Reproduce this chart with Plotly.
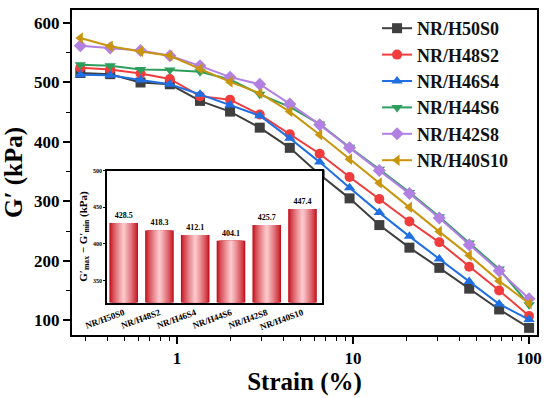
import plotly.graph_objects as go

# ---------------- data ----------------
strain = [0.282, 0.417, 0.62, 0.91, 1.35, 2.0, 2.95, 4.37, 6.46, 9.55,
          14.1, 20.9, 30.9, 45.7, 67.6, 100]

series_names = ["NR/H50S0", "NR/H48S2", "NR/H46S4", "NR/H44S6", "NR/H42S8", "NR/H40S10"]

g_h50s0 = [516, 514, 500, 497, 469, 451, 424, 390, 345, 305, 260, 222, 188, 153, 118, 87]
g_h48s2 = [525, 522, 515, 506, 477, 471, 446, 413, 380, 341, 304, 266, 231, 190, 150, 107]
g_h46s4 = [513, 512, 504, 497, 480, 462, 444, 406, 366, 323, 281, 241, 203, 165, 127, 101]
g_h44s6 = [530, 528, 522, 521, 518, 505, 480, 459, 430, 391, 354, 315, 274, 230, 186, 126]
g_h42s8 = [562, 558, 554, 545, 528, 509, 497, 464, 429, 390, 352, 313, 272, 227, 183, 136]
g_h40s10 = [575, 561, 552, 545, 523, 501, 482, 451, 412, 371, 331, 290, 249, 209, 166, 128]

bar_labels = ["NR/H50S0", "NR/H48S2", "NR/H46S4", "NR/H44S6", "NR/H42S8", "NR/H40S10"]
bar_values = [428.5, 418.3, 412.1, 404.1, 425.7, 447.4]

# ---------------- style ----------------
colors = ["#3f3f3f", "#f03c3c", "#1f6fe3", "#2e9e5c", "#b27fe2", "#c9950c"]
symbols = ["square", "circle", "triangle-up", "triangle-down", "diamond", "triangle-left"]
FONT = "Liberation Serif"

fig = go.Figure()
all_series = [g_h50s0, g_h48s2, g_h46s4, g_h44s6, g_h42s8, g_h40s10]
for name, ys, c, s in zip(series_names, all_series, colors, symbols):
    fig.add_trace(go.Scatter(
        x=strain, y=ys, name=name, mode="lines+markers",
        line=dict(color=c, width=2),
        marker=dict(symbol=s, size=10, color=c),
        xaxis="x", yaxis="y",
    ))

# gradient bars in inset via overlaid layers
edge = (196, 18, 30)
center = (252, 198, 202)
n_layers = 12
w_outer = 0.8
for i in range(n_layers):
    t = i / (n_layers - 1)
    t2 = t ** 0.8
    col = tuple(int(edge[k] + (center[k] - edge[k]) * t2) for k in range(3))
    w = w_outer * (1 - t * 0.92)
    kw = {}
    if i == 0:
        kw = dict(text=[f"{v:.1f}" for v in bar_values], textposition="outside",
                  textfont=dict(family=FONT, size=8, color="black", weight="bold"),
                  cliponaxis=False)
    fig.add_trace(go.Bar(
        x=bar_labels, y=bar_values, width=w,
        marker=dict(color="rgb(%d,%d,%d)" % col, line=dict(width=0)),
        xaxis="x2", yaxis="y2", showlegend=False, hoverinfo="skip",
        **kw,
    ))

fig.update_layout(
    width=550, height=398,
    margin=dict(l=72, r=13, t=7, b=61),
    paper_bgcolor="white", plot_bgcolor="white",
    barmode="overlay",
    font=dict(family=FONT, color="black"),
    showlegend=True,
    legend=dict(
        x=0.656, y=1.0, xanchor="left", yanchor="top",
        font=dict(family=FONT, size=18, color="#111", weight="bold"),
        bgcolor="rgba(0,0,0,0)", borderwidth=0,
        tracegroupgap=0,
    ),
    xaxis=dict(
        type="log", range=[-0.597, 2.045],
        domain=[0, 1],
        showline=True, linecolor="black", linewidth=2, mirror=True,
        ticks="outside", ticklen=7, tickwidth=1.5, tickcolor="black",
        tickvals=[1, 10, 100], ticktext=["1", "10", "100"],
        tickfont=dict(family=FONT, size=17, color="black", weight="bold"),
        minor=dict(ticks="outside", ticklen=4, tickwidth=1, tickcolor="black",
                   tickvals=[0.3, 0.4, 0.5, 0.6, 0.7, 0.8, 0.9, 2, 3, 4, 5, 6, 7, 8, 9,
                             20, 30, 40, 50, 60, 70, 80, 90]),
        showgrid=False, zeroline=False,
        title=dict(text="<b>Strain (%)</b>", font=dict(family=FONT, size=25), standoff=5),
    ),
    yaxis=dict(
        range=[75, 622], domain=[0, 1],
        showline=True, linecolor="black", linewidth=2, mirror=True,
        ticks="outside", ticklen=7, tickwidth=1.5, tickcolor="black",
        tickvals=[100, 200, 300, 400, 500, 600],
        tickfont=dict(family=FONT, size=17, color="black", weight="bold"),
        minor=dict(ticks="outside", ticklen=4, tickwidth=1, tickcolor="black",
                   tickvals=[150, 250, 350, 450, 550]),
        showgrid=False, zeroline=False,
        title=dict(text="<b>G′ (kPa)</b>", font=dict(family=FONT, size=25), standoff=8),
    ),
    xaxis2=dict(
        domain=[0.075, 0.538], anchor="y2",
        range=[-0.47, 5.55],
        showline=True, linecolor="black", linewidth=1.5, mirror=True,
        ticks="", tickangle=-20,
        tickfont=dict(family=FONT, size=9, color="black", weight="bold"),
        showgrid=False, zeroline=False,
    ),
    yaxis2=dict(
        domain=[0.1, 0.506], anchor="x2",
        range=[320, 500],
        showline=True, linecolor="black", linewidth=1.5, mirror=True,
        ticks="outside", ticklen=2, tickwidth=1, tickcolor="black",
        tickvals=[350, 400, 450, 500],
        tickfont=dict(family=FONT, size=6, color="black", weight="bold"),
        showgrid=False, zeroline=False,
        title=dict(text="<b>G′<sub>max</sub> − G′<sub>min</sub> (kPa)</b>",
                   font=dict(family=FONT, size=11), standoff=3),
    ),
)

fig.write_html("out.html", config={"displayModeBar": False},
               post_script="document.body.style.margin='0';")
